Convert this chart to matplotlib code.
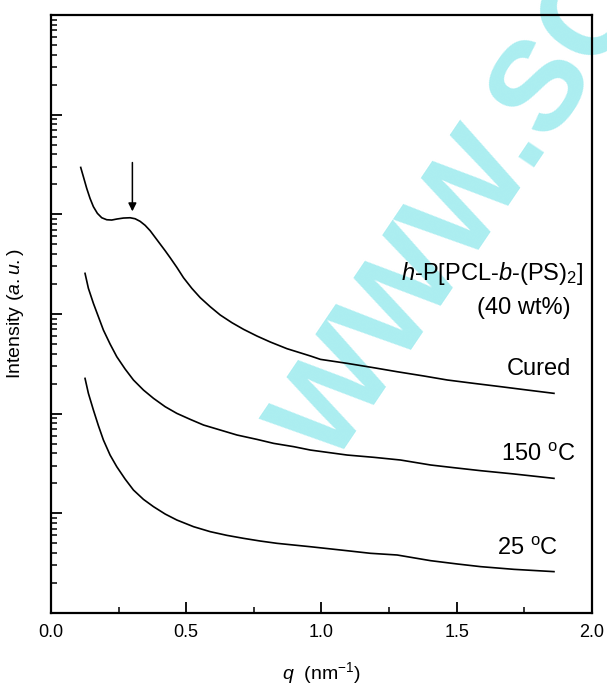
import numpy as np
import matplotlib
matplotlib.use("Agg")
import matplotlib.pyplot as plt
from matplotlib.ticker import LogLocator, MultipleLocator, NullFormatter

plt.rcParams['font.family'] = ['Liberation Sans', 'DejaVu Sans']
plt.rcParams['mathtext.fontset'] = 'custom'
plt.rcParams['mathtext.rm'] = 'Liberation Sans'
plt.rcParams['mathtext.it'] = 'Liberation Sans:italic'

# SAXS profiles: q in nm^-1, log10 of intensity (a.u., curves shifted vertically)
q_cured = [0.1099, 0.1198, 0.1321, 0.1444, 0.1568, 0.1716, 0.1877, 0.2062, 0.2247,
           0.2432, 0.2679, 0.2926, 0.3111, 0.3296, 0.3481, 0.3667, 0.3852, 0.4037,
           0.4222, 0.4407, 0.4654, 0.4901, 0.5210, 0.5519, 0.5889, 0.6259, 0.6691,
           0.7123, 0.7617, 0.8111, 0.8728, 0.9593, 0.9963, 1.095, 1.194, 1.280,
           1.379, 1.4654, 1.564, 1.663, 1.762, 1.860]
logI_cured = [4.471, 4.378, 4.261, 4.160, 4.077, 4.010, 3.966, 3.946, 3.943,
              3.953, 3.963, 3.966, 3.956, 3.930, 3.890, 3.836, 3.769, 3.702,
              3.635, 3.565, 3.468, 3.364, 3.257, 3.164, 3.073, 2.990, 2.913,
              2.846, 2.779, 2.719, 2.652, 2.579, 2.545, 2.505, 2.461, 2.421,
              2.378, 2.338, 2.304, 2.271, 2.237, 2.204]

q_150 = [0.1259, 0.1383, 0.1568, 0.1753, 0.1938, 0.2185, 0.2432, 0.2741, 0.3049,
         0.3420, 0.3790, 0.4222, 0.4654, 0.5148, 0.5642, 0.6259, 0.6877, 0.7617,
         0.8235, 0.8975, 0.9593, 1.095, 1.194, 1.2926, 1.404, 1.490, 1.589, 1.712,
         1.860]
logI_150 = [3.408, 3.258, 3.107, 2.973, 2.839, 2.699, 2.572, 2.448, 2.338,
            2.237, 2.154, 2.070, 2.003, 1.943, 1.886, 1.836, 1.786, 1.742,
            1.702, 1.669, 1.635, 1.585, 1.562, 1.535, 1.485, 1.458, 1.428, 1.395,
            1.351]

q_25 = [0.1259, 0.1383, 0.1568, 0.1753, 0.1938, 0.2185, 0.2432, 0.2741, 0.3049,
        0.3420, 0.3790, 0.4222, 0.4654, 0.5272, 0.5889, 0.6506, 0.7123, 0.7741,
        0.8358, 0.8975, 0.9593, 1.095, 1.181, 1.280, 1.404, 1.502, 1.589, 1.712,
        1.860]
logI_25 = [2.354, 2.204, 2.037, 1.880, 1.736, 1.585, 1.468, 1.344, 1.234,
           1.140, 1.067, 0.993, 0.933, 0.866, 0.816, 0.779, 0.749, 0.722,
           0.699, 0.682, 0.665, 0.625, 0.599, 0.582, 0.525, 0.492, 0.465, 0.438,
           0.415]

peak_q = 0.301

fig = plt.figure(figsize=(6.07, 6.90), dpi=100)
ax = fig.add_axes([0.084, 0.1116, 0.891, 0.8666])

for q, li in [(q_cured, logI_cured), (q_150, logI_150), (q_25, logI_25)]:
    ax.plot(q, 10 ** np.array(li), color='black', lw=1.2, zorder=3,
            solid_joinstyle='round')

# arrow marking the scattering peak
ax.annotate('', xy=(peak_q, 10 ** 4.03), xytext=(peak_q, 10 ** 4.52),
            arrowprops=dict(arrowstyle='-|>', color='black', lw=1.1,
                            mutation_scale=12, shrinkA=0, shrinkB=0), zorder=4)

ax.set_yscale('log')
ax.set_xlim(0, 2.0)
ax.set_ylim(1, 1e6)
ax.xaxis.set_major_locator(MultipleLocator(0.5))
ax.xaxis.set_minor_locator(MultipleLocator(0.25))
ax.yaxis.set_major_locator(LogLocator(base=10, numticks=10))
ax.yaxis.set_minor_locator(LogLocator(base=10, subs=np.arange(2, 10), numticks=20))
ax.yaxis.set_major_formatter(NullFormatter())
ax.yaxis.set_minor_formatter(NullFormatter())
ax.set_xticks([0, 0.5, 1.0, 1.5, 2.0])
ax.set_xticklabels(['0.0', '0.5', '1.0', '1.5', '2.0'])

ax.tick_params(which='major', direction='in', length=8, width=1.3,
               labelsize=13, colors='black', pad=8)
ax.tick_params(which='minor', direction='in', length=4, width=1.1)
ax.tick_params(top=False, right=False, which='both')
for s in ax.spines.values():
    s.set_linewidth(1.6)

ax.set_xlabel(r'$q$  (nm$^{-1}$)', fontsize=14, labelpad=14)
ax.set_ylabel(r'Intensity $\mathit{(a.u.)}$', fontsize=14, labelpad=10)

tkw = dict(transform=ax.transData, ha='right', va='center', fontsize=17, zorder=5)
ax.text(1.97, 10 ** 3.41, r'$h$-P[PCL-$b$-(PS)$_2$]', **tkw)
ax.text(1.922, 10 ** 3.06, '(40 wt%)', **tkw)
ax.text(1.922, 10 ** 2.45, 'Cured', **tkw)
ax.text(1.94, 10 ** 1.59, r'150 $^{\mathrm{o}}$C', **tkw)
ax.text(1.875, 10 ** 0.64, r'25 $^{\mathrm{o}}$C', **tkw)

# site watermark, kept under the curves
ax.text(0.763, 0.690, 'WWW.SC', transform=fig.transFigure, color='#8fe8ec',
        fontsize=92, fontweight='bold', rotation=56, ha='center', va='center',
        alpha=0.75, zorder=1, clip_on=False)

fig.savefig('out.png', dpi=100)
